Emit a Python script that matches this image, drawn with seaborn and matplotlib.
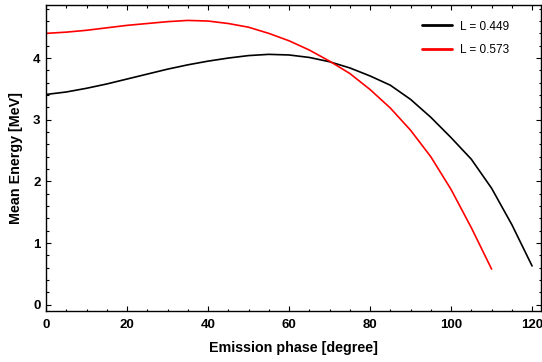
import matplotlib
matplotlib.use("Agg")
import matplotlib.pyplot as plt
import pandas as pd
import seaborn as sns
from matplotlib.ticker import MultipleLocator

sns.set_style("ticks")
plt.rcParams.update({
    "font.family": ["Liberation Sans", "DejaVu Sans"],
    "text.color": "black",
    "axes.labelcolor": "black",
    "xtick.color": "black",
    "ytick.color": "black",
    "axes.edgecolor": "black",
})

# values (5 degree steps)
phase_449 = [0, 5, 10, 15, 20, 25, 30, 35, 40, 45, 50, 55, 60, 65, 70, 75, 80,
             85, 90, 95, 100, 105, 110, 115, 120]
energy_449 = [3.41, 3.45, 3.51, 3.58, 3.66, 3.74, 3.82, 3.89, 3.95, 4.00, 4.04,
              4.06, 4.05, 4.01, 3.94, 3.84, 3.71, 3.56, 3.33, 3.04, 2.71, 2.36,
              1.89, 1.30, 0.63]

phase_573 = [0, 5, 10, 15, 20, 25, 30, 35, 40, 45, 50, 55, 60, 65, 70, 75, 80,
             85, 90, 95, 100, 105, 110]
energy_573 = [4.40, 4.42, 4.45, 4.49, 4.53, 4.56, 4.59, 4.61, 4.60, 4.56, 4.50,
              4.40, 4.28, 4.13, 3.95, 3.75, 3.49, 3.19, 2.83, 2.40, 1.87, 1.25,
              0.58]

labels = ["L = 0.449", "L = 0.573"]
colors = ["black", "red"]

df = pd.concat([
    pd.DataFrame({"phase": phase_449, "energy": energy_449, "L": labels[0]}),
    pd.DataFrame({"phase": phase_573, "energy": energy_573, "L": labels[1]}),
])

fig = plt.figure(figsize=(5.42, 3.62), dpi=100)
ax = fig.add_axes([46 / 542, 1 - 311 / 362, 495 / 542, 306 / 362])

sns.lineplot(data=df, x="phase", y="energy", hue="L", palette=colors,
             linewidth=1.2, ax=ax)

ax.set_xlim(0, 122.2)
ax.set_ylim(-0.1, 4.86)
ax.xaxis.set_major_locator(MultipleLocator(20))
ax.xaxis.set_minor_locator(MultipleLocator(5))
ax.yaxis.set_major_locator(MultipleLocator(1))
ax.yaxis.set_minor_locator(MultipleLocator(0.2))
ax.tick_params(which="both", direction="in", top=True, right=True,
               width=0.8, labelsize=9.5)
ax.tick_params(which="major", length=3.5)
ax.tick_params(which="minor", length=1.8)
ax.tick_params(axis="x", pad=6)
ax.tick_params(axis="y", pad=4)
for lab in ax.get_xticklabels() + ax.get_yticklabels():
    lab.set_fontweight("bold")
for s in ax.spines.values():
    s.set_linewidth(1.0)

ax.set_xlabel("Emission phase [degree]", fontsize=10.3, fontweight="bold",
              labelpad=7)
ax.set_ylabel("Mean Energy [MeV]", fontsize=10.3, fontweight="bold",
              labelpad=7)

leg = ax.legend(title=None, frameon=False, loc="upper right", fontsize=8.5,
                handlelength=2.6, handletextpad=0.7, labelspacing=1.0,
                bbox_to_anchor=(0.958, 0.984))
for h in leg.get_lines():
    h.set_linewidth(2.0)

fig.savefig("out.png", dpi=100)
